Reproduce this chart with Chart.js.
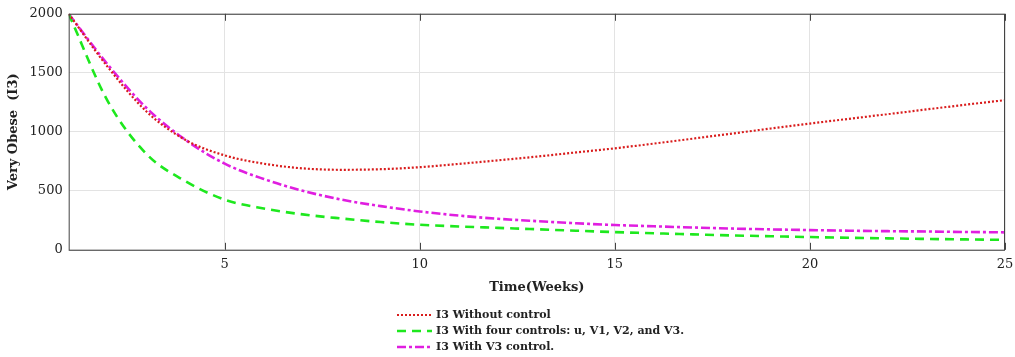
<!DOCTYPE html>
<html>
<head>
<meta charset="utf-8">
<script src="https://cdn.jsdelivr.net/npm/chart.js@4.4.0/dist/chart.umd.min.js"></script>
<style>
  html, body { margin: 0; padding: 0; background: #fff; }
  #wrap { width: 1015px; height: 357px; position: relative; }
</style>
</head>
<body>
<div id="wrap"><canvas id="myChart" width="1015" height="357"></canvas></div>
<script>
// weeks
let weeks = [1, 2, 3, 4, 5, 6, 7, 8, 9, 10, 11, 12, 13, 14, 15, 16, 17, 18, 19, 20, 21, 22, 23, 24, 25];
// I3 without control
let noControl = [2000, 1550, 1170, 930, 800, 730, 690, 678, 683, 700, 728, 758, 790, 825, 860, 900, 942, 985, 1028, 1070, 1110, 1150, 1190, 1230, 1268];
// I3 with four controls
let fourControls = [2000, 1260, 810, 580, 425, 350, 300, 265, 235, 212, 198, 186, 174, 162, 150, 140, 131, 122, 115, 108, 102, 97, 92, 88, 84];
// I3 with V3 control
let v3Control = [2000, 1570, 1200, 930, 730, 600, 500, 425, 370, 325, 290, 263, 243, 225, 210, 199, 189, 180, 173, 167, 162, 158, 155, 151, 148];
let xTicks = [5, 10, 15, 20, 25];
let yTicks = [0, 500, 1000, 1500, 2000];
let legendLabels = ['I3 Without control', 'I3 With four controls: u, V1, V2, and V3.', 'I3 With V3 control.'];

let serif = '"DejaVu Serif", "Liberation Serif", serif';

function toPoints(arr) {
    return weeks.map(function (w, i) { return { x: w, y: arr[i] }; });
}

let styles = [
    { color: '#d91c1c', dash: [2, 2], width: 2.2 },
    { color: '#1ee81e', dash: [9, 6], width: 2.6 },
    { color: '#e01ee0', dash: [9, 3, 3, 3], width: 2.6 }
];

//Cadre, petits ticks et légende
const framePlugin = {
    id: 'frame',
    afterDraw(chart) {
        const c = chart.ctx;
        const a = chart.chartArea;
        const xs = chart.scales.x;
        c.save();
        c.strokeStyle = '#444';
        c.lineWidth = 1;
        c.strokeRect(a.left + 0.5, a.top + 0.5, a.right - a.left - 1, a.bottom - a.top);
        xTicks.forEach(function (t) {
            let px = Math.round(xs.getPixelForValue(t)) + 0.5;
            c.beginPath();
            c.moveTo(px, a.top); c.lineTo(px, a.top + 7);
            c.moveTo(px, a.bottom); c.lineTo(px, a.bottom - 7);
            c.stroke();
        });
        // légende
        let lx = 397, ly = 315;
        c.font = 'bold 11px ' + serif;
        c.textBaseline = 'middle';
        legendLabels.forEach(function (lab, i) {
            let s = styles[i];
            let y = ly + i * 16;
            c.strokeStyle = s.color;
            c.lineWidth = s.width;
            c.setLineDash(s.dash);
            c.beginPath();
            c.moveTo(lx, y); c.lineTo(lx + 35, y);
            c.stroke();
            c.setLineDash([]);
            c.fillStyle = '#222';
            c.fillText(lab, lx + 39, y);
        });
        c.restore();
    }
};

const ctx = document.getElementById('myChart').getContext('2d');
const myChart = new Chart(ctx, {
    type: 'line',
    data: {
        datasets: [noControl, fourControls, v3Control].map(function (arr, i) {
            return {
                label: legendLabels[i],
                data: toPoints(arr),
                borderColor: styles[i].color,
                borderWidth: styles[i].width,
                borderDash: styles[i].dash,
                pointRadius: 0,
                cubicInterpolationMode: 'monotone',
                fill: false
            };
        })
    },
    options: {
        responsive: false,
        animation: false,
        layout: { padding: { left: 2, right: 10, top: 8, bottom: 58 } },
        plugins: { legend: { display: false }, tooltip: { enabled: false } },
        scales: {
            x: {
                type: 'linear',
                min: 1,
                max: 25,
                afterBuildTicks: function (scale) {
                    scale.ticks = xTicks.map(function (v) { return { value: v }; });
                },
                afterFit: function (scale) {
                    scale.paddingRight = 0;
                },
                grid: { color: '#e3e3e3', drawTicks: false },
                border: { display: false },
                ticks: { color: '#222', font: { family: serif, size: 13 }, padding: 7, maxRotation: 0, callback: function (v) { return String(v); } },
                title: { display: true, text: 'Time(Weeks)', color: '#222', font: { family: serif, size: 13, weight: 'bold' }, padding: { top: 0 } }
            },
            y: {
                min: 0,
                max: 2000,
                afterBuildTicks: function (scale) {
                    scale.ticks = yTicks.map(function (v) { return { value: v }; });
                },
                grid: { color: '#e3e3e3', drawTicks: false },
                border: { display: false },
                ticks: { color: '#222', font: { family: serif, size: 13 }, padding: 6, callback: function (v) { return String(v); } },
                title: { display: true, text: 'Very Obese  (I3)', color: '#222', font: { family: serif, size: 13, weight: 'bold' }, padding: { bottom: 2 } }
            }
        }
    },
    plugins: [framePlugin]
});
</script>
</body>
</html>
